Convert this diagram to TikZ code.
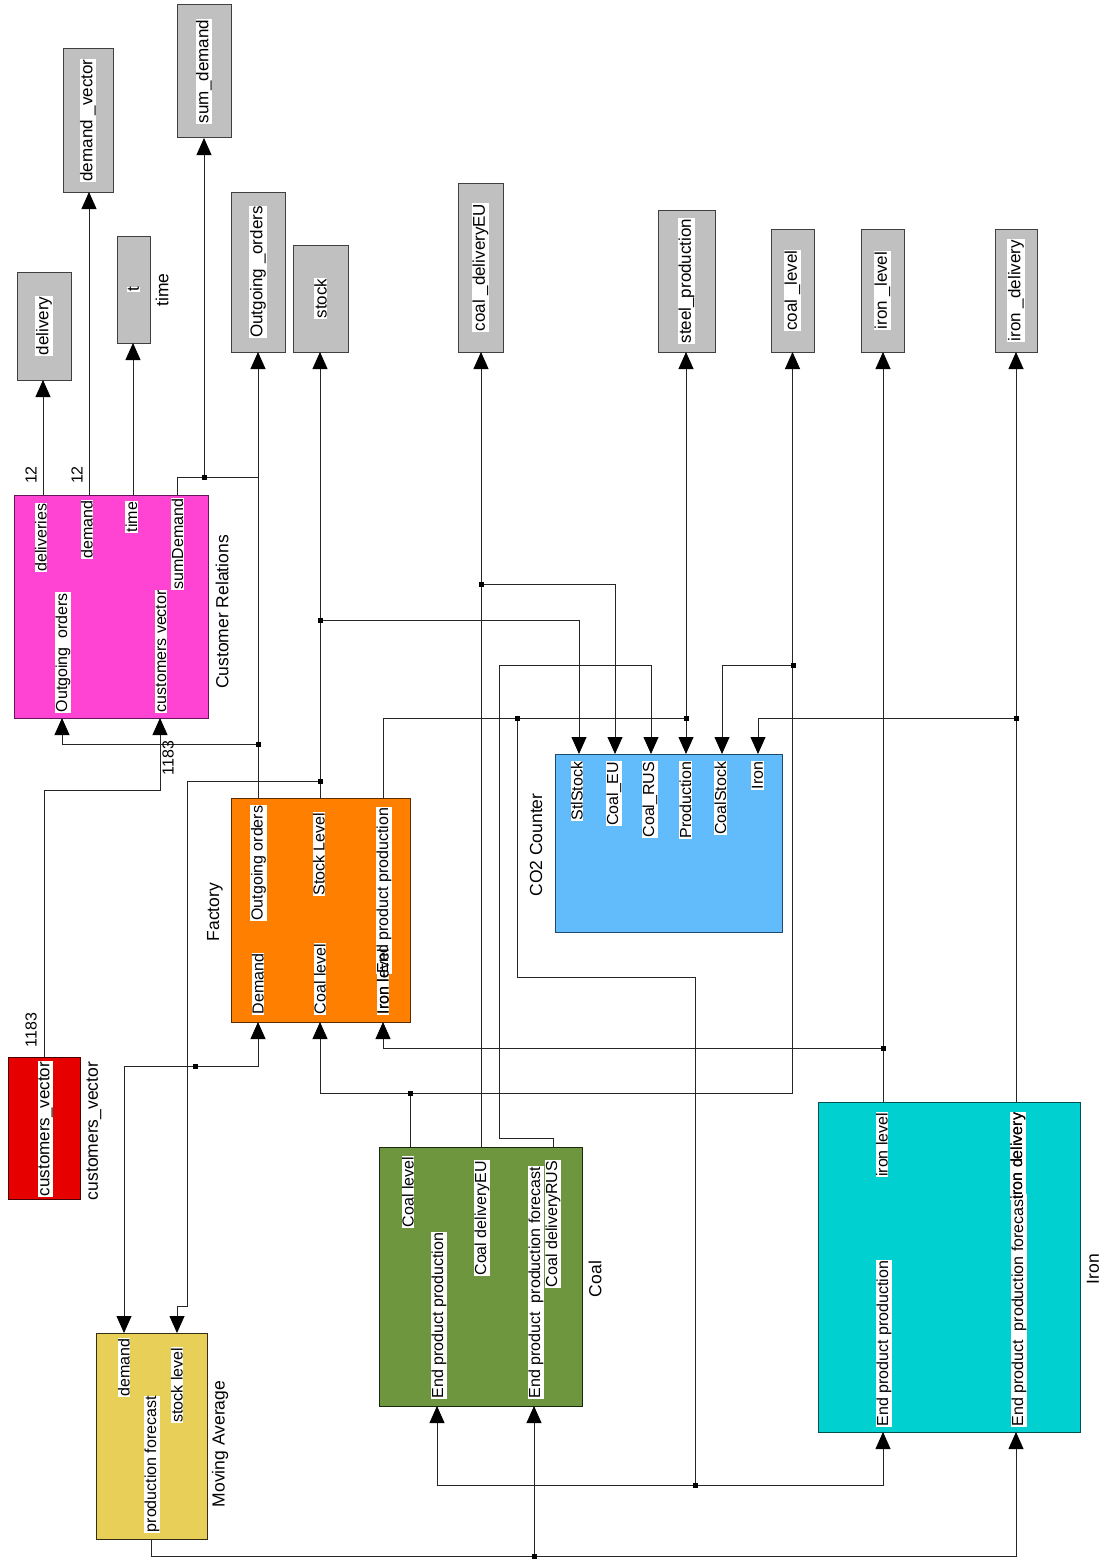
\documentclass[tikz,border=0pt]{standalone}
\usepackage{fontspec}
\setmainfont{Liberation Sans}
\usetikzlibrary{arrows.meta}
\definecolor{scopegray}{RGB}{192,192,192}
\definecolor{scopeedge}{RGB}{64,64,64}
\definecolor{crfill}{RGB}{255,68,212}
\definecolor{credge}{RGB}{100,20,90}
\definecolor{facfill}{RGB}{255,128,0}
\definecolor{facedge}{RGB}{90,45,0}
\definecolor{cvfill}{RGB}{230,0,0}
\definecolor{cvedge}{RGB}{70,0,0}
\definecolor{mafill}{RGB}{232,208,88}
\definecolor{maedge}{RGB}{50,45,20}
\definecolor{coalfill}{RGB}{110,150,62}
\definecolor{coaledge}{RGB}{25,40,12}
\definecolor{ironfill}{RGB}{0,208,208}
\definecolor{ironedge}{RGB}{0,80,80}
\definecolor{cofill}{RGB}{98,188,251}
\definecolor{coedge}{RGB}{30,74,112}
\tikzset{
  blk/.style={draw, line width=1pt, inner sep=0pt, outer sep=0pt, rectangle},
  scopebox/.style={blk, fill=scopegray, draw=scopeedge},
  sig/.style={line width=0.8pt, draw=black!85},
  arr/.style={sig, -{Triangle[width=15pt,length=17pt,color=black]}},
  plab/.style={rotate=90, fill=white, inner sep=0.6pt, font=\fontsize{16}{18}\selectfont},
  plabtop/.style={plab, anchor=east},
  plabbot/.style={plab, anchor=west},
  bname/.style={rotate=90, inner sep=0pt, font=\fontsize{17.5}{20}\selectfont},
  slab/.style={rotate=90, fill=white, inner sep=0.6pt, font=\fontsize{17}{19}\selectfont},
  jn/.style={fill=black, inner sep=0pt, minimum size=5pt, rectangle},
  num/.style={rotate=90, inner sep=0pt, font=\fontsize{16}{18}\selectfont},
}
\newcommand\scp[6]{\node[scopebox, minimum width=#4pt, minimum height=#5pt] (#1) at (#2,#3) {};
  \node[slab] (#1-lab) at (#1.center) {#6};}
\begin{document}
\begin{tikzpicture}[x=1pt,y=-1pt]
\useasboundingbox (0,0) rectangle (1101,1568);

% ---------- scopes ----------
\scp{delivery}{44}{326}{54}{108}{delivery}
\scp{demandvec}{88}{120.5}{50}{143}{demand \_vector}
\scp{tsc}{133.5}{289.5}{33}{107}{t}
\scp{sumdem}{204}{71.5}{54}{133}{sum\_demand}
\scp{outord}{258}{272}{54}{160}{Outgoing \_orders}
\scp{stock}{320.5}{298.5}{55}{107}{stock}
\scp{coaldeu}{480.5}{267.5}{45}{169}{coal \_deliveryEU}
\scp{steel}{686.5}{281}{57}{142}{steel\_production}
\scp{coallev}{792.5}{290.5}{43}{123}{coal \_level}
\scp{ironlev}{882.5}{290.5}{43}{123}{iron \_level}
\scp{irondel}{1016}{290.5}{42}{123}{iron \_delivery}

% ---------- blocks ----------
\node[blk, fill=crfill, draw=credge, minimum width=194pt, minimum height=223pt] (cr) at (111,606.5) {};
\node[blk, fill=facfill, draw=facedge, minimum width=179pt, minimum height=224pt] (fac) at (320.5,910) {};
\node[blk, fill=cvfill, draw=cvedge, minimum width=72pt, minimum height=142pt] (cv) at (44,1128) {};
\node[blk, fill=mafill, draw=maedge, minimum width=111pt, minimum height=206pt] (ma) at (151.5,1436) {};
\node[blk, fill=coalfill, draw=coaledge, minimum width=203pt, minimum height=259pt] (coal) at (480.5,1276.5) {};
\node[blk, fill=ironfill, draw=ironedge, minimum width=262pt, minimum height=330pt] (iron) at (949,1267) {};
\node[blk, fill=cofill, draw=coedge, minimum width=227pt, minimum height=178pt] (co2) at (668.5,843) {};

% ---------- ports ----------
\coordinate (cr-o1) at (43,495);
\coordinate (cr-o2) at (89,495);
\coordinate (cr-o3) at (133,495);
\coordinate (cr-o4) at (177,495);
\coordinate (cr-i1) at (62,718);
\coordinate (cr-i2) at (160,718);
\coordinate (fac-o1) at (258,798);
\coordinate (fac-o2) at (320,798);
\coordinate (fac-o3) at (383,798);
\coordinate (fac-i1) at (258,1022);
\coordinate (fac-i2) at (320,1022);
\coordinate (fac-i3) at (383,1022);
\coordinate (cv-o) at (44,1057);
\coordinate (ma-i1) at (124,1333);
\coordinate (ma-i2) at (177,1333);
\coordinate (ma-o) at (151,1539);
\coordinate (coal-o1) at (410,1147);
\coordinate (coal-o2) at (481,1147);
\coordinate (coal-o3) at (553,1147);
\coordinate (coal-i1) at (437,1406);
\coordinate (coal-i2) at (534,1406);
\coordinate (iron-o1) at (883,1102);
\coordinate (iron-o2) at (1016,1102);
\coordinate (iron-i1) at (883,1432);
\coordinate (iron-i2) at (1016,1432);
\coordinate (co2-i1) at (579,754);
\coordinate (co2-i2) at (615,754);
\coordinate (co2-i3) at (651,754);
\coordinate (co2-i4) at (686,754);
\coordinate (co2-i5) at (722,754);
\coordinate (co2-i6) at (758,754);

% ---------- branch points / bends ----------
\coordinate (j1) at (204,477);
\coordinate (sdend) at (258,477);
\coordinate (j2) at (258,744);
\coordinate (cvbend) at (160,790);
\coordinate (j3) at (320,620);
\coordinate (j4) at (320,781);
\coordinate (sb1) at (187,1306);
\coordinate (j5) at (686,718);
\coordinate (j6) at (517,718);
\coordinate (b6) at (695,977);
\coordinate (j7) at (695,1485);
\coordinate (j8) at (534,1556);
\coordinate (j9) at (410,1093);
\coordinate (j10) at (793,665);
\coordinate (j11) at (481,584);
\coordinate (b12a) at (499,1138);
\coordinate (b12c) at (499,665);
\coordinate (j12) at (883,1048);
\coordinate (j13) at (1016,718);
\coordinate (j14) at (195,1066);

% ---------- connectors ----------
\draw[arr] (cr-o1) -- (cr-o1 |- delivery.south);
\draw[arr] (cr-o2) -- (cr-o2 |- demandvec.south);
\draw[arr] (cr-o3) -- (cr-o3 |- tsc.south);
\draw[sig] (cr-o4) |- (sdend);
\draw[arr] (j1) -- (j1 |- sumdem.south);
\draw[arr] (fac-o1) -- (fac-o1 |- outord.south);
\draw[arr] (j2) -| (cr-i1);
\draw[arr] (cv-o) |- (cvbend) -- (cr-i2);
\draw[arr] (fac-o2) -- (fac-o2 |- stock.south);
\draw[arr] (j3) -| (co2-i1);
\draw[arr] (j4) -| (sb1) -| (ma-i2);
\draw[sig] (fac-o3) |- (j5);
\draw[arr] (j5) -- (j5 |- steel.south);
\draw[arr] (j5) -- (co2-i4);
\draw[sig] (j6) |- (b6) -- (j7);
\draw[arr] (j7) -| (coal-i1);
\draw[arr] (j7) -| (iron-i1);
\draw[arr] (ma-o) |- (j8) -| (iron-i2);
\draw[arr] (j8) -- (coal-i2);
\draw[sig] (coal-o1) -- (j9);
\draw[arr] (j9) -| (fac-i2);
\draw[arr] (j9) -| (coallev.south);
\draw[arr] (j10) -| (co2-i5);
\draw[arr] (coal-o2) -- (coal-o2 |- coaldeu.south);
\draw[arr] (j11) -| (co2-i2);
\draw[arr] (coal-o3) |- (b12a) -- (b12c) -| (co2-i3);
\draw[arr] (iron-o1) -- (iron-o1 |- ironlev.south);
\draw[arr] (j12) -| (fac-i3);
\draw[arr] (iron-o2) -- (iron-o2 |- irondel.south);
\draw[arr] (j13) -| (co2-i6);
\draw[arr] (j14) -| (fac-i1);
\draw[arr] (j14) -| (ma-i1);

% junction marks
\foreach \j in {j1,j2,j3,j4,j5,j6,j7,j8,j9,j10,j11,j12,j13,j14}
  \node[jn] (m-\j) at (\j) {};

% ---------- port labels ----------
% Customer Relations
\node[plabtop] (l-cr1) at (41,503) {deliveries};
\node[plabtop] (l-cr2) at (87,500) {demand};
\node[plabtop] (l-cr3) at (131.5,501) {time};
\node[plabtop] (l-cr4) at (177.5,498) {sumDemand};
\node[plabbot] (l-cr5) at (63,713) {Outgoing~ orders};
\node[plabbot] (l-cr6) at (161,713) {customers vector};
% Factory
\node[plabtop] (l-f1) at (258.5,805) {Outgoing orders};
\node[plabtop] (l-f2) at (319,812) {Stock Level};
\node[plabbot] (l-f4) at (258,1015) {Demand};
\node[plabbot] (l-f5) at (320,1015) {Coal level};
\node[plabbot] (l-f6) at (383,1015) {Iron level};
\node[plabtop] (l-f3) at (384,807) {End product production};
\node[plabbot, fill=none] (l-f6b) at (383,1015) {Iron level};
% customers vector
\node[slab] (l-cv) at (45.5,1129) {customers\_vector};
% Moving Average
\node[plabtop] (l-m1) at (124,1338) {demand};
\node[plabtop] (l-m2) at (177,1347) {stock level};
\node[plabbot] (l-m3) at (152,1533) {production forecast};
% Coal
\node[plabtop] (l-c1) at (408,1156) {Coal level};
\node[plabtop] (l-c2) at (482,1160) {Coal deliveryEU};
\node[plabbot] (l-c4) at (439,1399) {End product production};
\node[plabbot] (l-c5) at (536,1399) {End product~ production forecast};
\node[plabtop] (l-c3) at (553,1160) {Coal deliveryRUS};
% Iron
\node[plabtop] (l-i1) at (882,1112) {iron level};
\node[plabbot] (l-i3) at (884,1427) {End product production};
\node[plabtop] (l-i2) at (1018,1112) {iron delivery};
\node[plabbot] (l-i4) at (1019,1427) {End product~ production forecast};
\node[plabtop, fill=none] (l-i2b) at (1018,1112) {iron delivery};
% CO2 Counter
\node[plabtop] (l-o1) at (577,761) {StlStock};
\node[plabtop] (l-o2) at (614,761) {Coal\_EU};
\node[plabtop] (l-o3) at (650,761) {Coal\_RUS};
\node[plabtop] (l-o4) at (685.5,761) {Production};
\node[plabtop] (l-o5) at (720.5,761) {CoalStock};
\node[plabtop] (l-o6) at (757.5,761) {Iron};

% ---------- block names ----------
\node[bname] (n-cr) at (222,612) {Customer Relations};
\node[bname] (n-fac) at (215,912) {Factory};
\node[bname] (n-cv) at (94,1131) {customers\_vector};
\node[bname] (n-ma) at (220,1444) {Moving Average};
\node[bname] (n-coal) at (595,1279) {Coal};
\node[bname] (n-iron) at (1093,1269) {Iron};
\node[bname] (n-co2) at (536,845) {CO2 Counter};
\node[bname] (n-t) at (162,290) {time};

% ---------- signal dimensions ----------
\node[num] (d1) at (31,475) {12};
\node[num] (d2) at (77,475) {12};
\node[num] (d3) at (168,758) {1183};
\node[num] (d4) at (31,1030) {1183};
\end{tikzpicture}
\end{document}
